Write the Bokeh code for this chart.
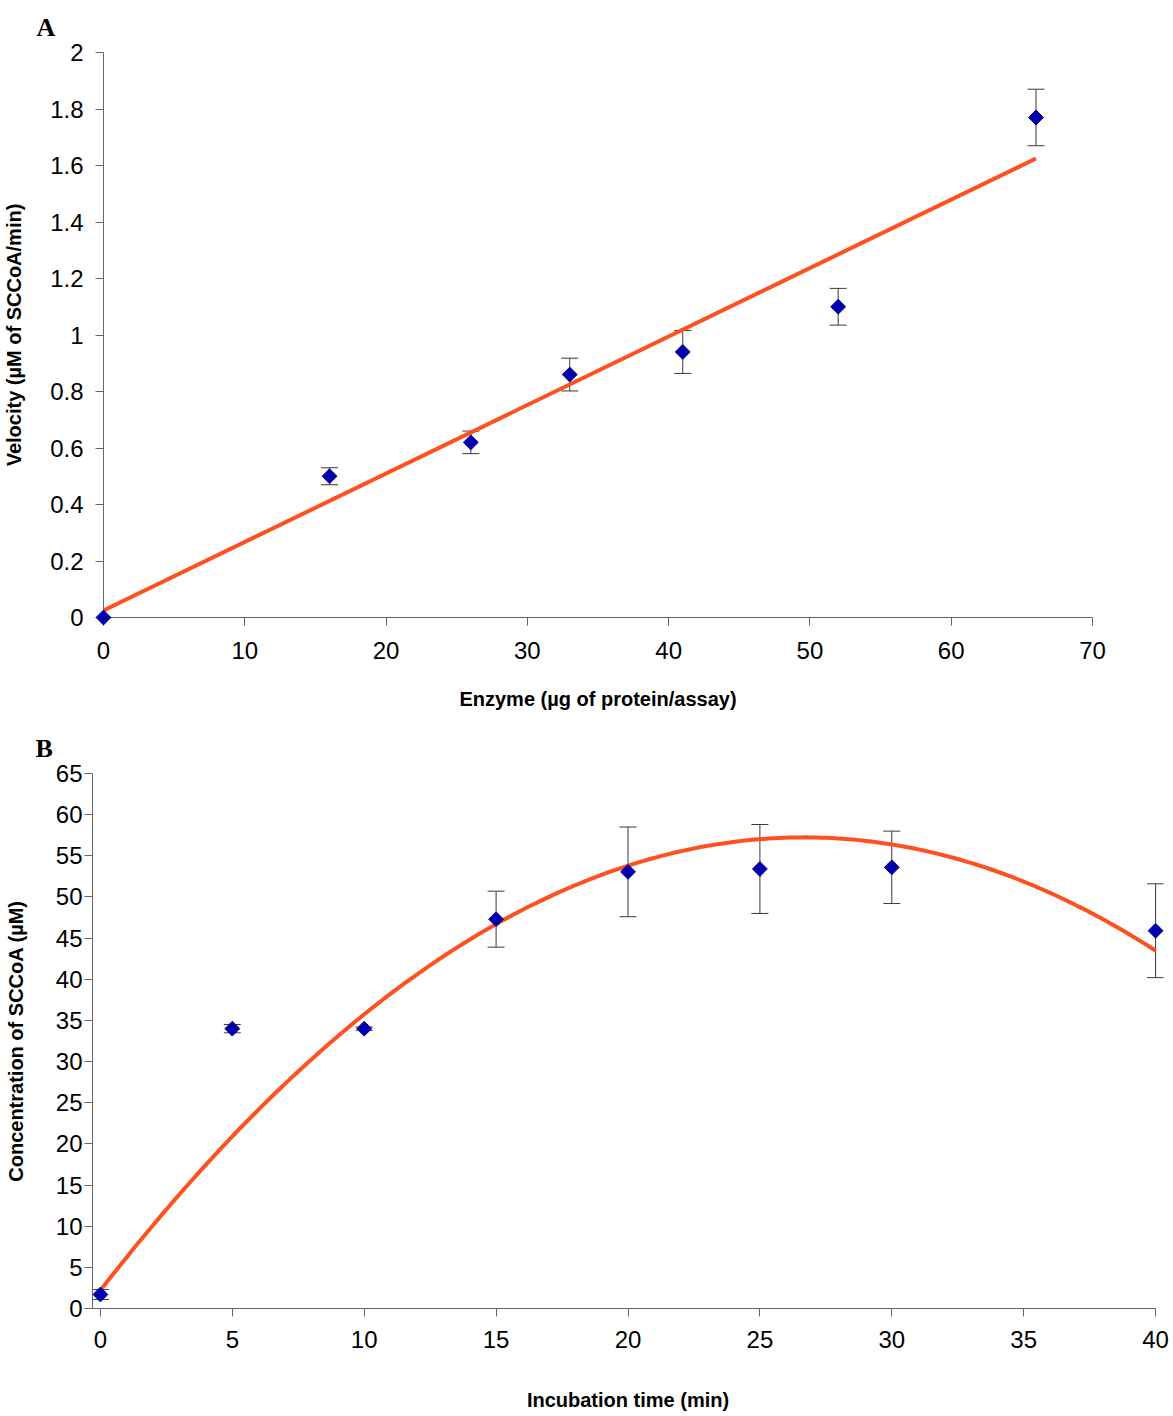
import numpy as np
from bokeh.plotting import figure
from bokeh.models import ColumnDataSource, Whisker, TeeHead, Range1d, FixedTicker
from bokeh.embed import file_html
from bokeh.resources import INLINE

# ---- Panel A data ----
enzyme_ug = [0, 16, 26, 33, 41, 52, 66]
velocity = [0.0, 0.50, 0.62, 0.86, 0.94, 1.10, 1.77]
velocity_err = [0.0, 0.03, 0.04, 0.058, 0.076, 0.065, 0.10]
a_fit_coef = [0.02424, 0.025]          # linear trendline (slope, intercept)
a_xticks = [0, 10, 20, 30, 40, 50, 60, 70]
a_yticks = [0, 0.2, 0.4, 0.6, 0.8, 1.0, 1.2, 1.4, 1.6, 1.8, 2.0]

# ---- Panel B data ----
time_min = [0, 5, 10, 15, 20, 25, 30, 40]
scoa_conc = [1.7, 34.0, 34.0, 47.3, 53.05, 53.4, 53.6, 45.9]
scoa_err = [0.6, 0.5, 0.2, 3.4, 5.45, 5.4, 4.4, 5.7]
b_fit_coef = [-0.0774, 4.128, 2.2]     # 2nd-order trendline
b_xticks = [0, 5, 10, 15, 20, 25, 30, 35, 40]
b_yticks = list(range(0, 70, 5))

MARK = "#0000A8"
LINE = "#FF5020"
AXC = "#666666"
ERRC = "#3a3a3a"
TICKF = "Liberation Sans"


def style(p, xt, yt, panel_letter, offset):
    p.xaxis.ticker = FixedTicker(ticks=xt)
    p.yaxis.ticker = FixedTicker(ticks=yt)
    for ax in (p.xaxis[0], p.yaxis[0]):
        ax.axis_line_color = AXC
        ax.major_tick_line_color = AXC
        ax.minor_tick_line_color = None
        ax.major_tick_in = 0
        ax.major_tick_out = 8
        ax.major_label_text_font = TICKF
        ax.major_label_text_font_size = "24px"
        ax.major_label_text_color = "black"
        ax.axis_label_text_font = TICKF
        ax.axis_label_text_font_style = "bold"
        ax.axis_label_text_font_size = "20px"
        ax.axis_label_text_color = "black"
    p.xgrid.visible = False
    p.ygrid.visible = False
    p.outline_line_color = None
    p.title.text = panel_letter
    p.title.align = "left"
    p.title.offset = offset
    p.title.text_font = "Liberation Serif"
    p.title.text_font_style = "bold"
    p.title.text_font_size = "26px"
    p.title.text_color = "black"
    p.title.standoff = 21


def fmt(v):
    return "0" if v == 0 else ("%g" % v)


def errbars(p, src):
    p.add_layout(Whisker(source=src, base="x", lower="lo", upper="hi",
                         line_color=ERRC, line_width=1,
                         upper_head=TeeHead(size=17, line_color=ERRC, line_width=1),
                         lower_head=TeeHead(size=17, line_color=ERRC, line_width=1)))

# ---------- Figure A ----------
pa = figure(width=1173, height=720, output_backend="svg", toolbar_location=None,
            x_range=Range1d(0, 70), y_range=Range1d(0, 2.0),
            min_border_left=102, min_border_right=81, min_border_top=52, min_border_bottom=103)
style(pa, a_xticks, a_yticks, "A", -67)
pa.yaxis.major_label_overrides = {v: fmt(v) for v in a_yticks}
pa.xaxis.axis_label = "Enzyme (µg of protein/assay)"
pa.yaxis.axis_label = "Velocity (µM of SCCoA/min)"
pa.xaxis.major_label_standoff = 16
pa.yaxis.major_label_standoff = 12
pa.xaxis.axis_label_standoff = 26
pa.yaxis.axis_label_standoff = 22

srcA = ColumnDataSource(dict(x=enzyme_ug, y=velocity,
                             lo=[v - e for v, e in zip(velocity, velocity_err)],
                             hi=[v + e for v, e in zip(velocity, velocity_err)]))
fxA = np.array([min(enzyme_ug), max(enzyme_ug)])
pa.line(fxA, np.polyval(a_fit_coef, fxA), line_color=LINE, line_width=4)
errbars(pa, srcA)
ra = pa.scatter("x", "y", source=srcA, marker="square", size=10.5, angle=np.pi / 4,
                fill_color=MARK, line_color=MARK)
ra.level = "overlay"

# ---------- Figure B ----------
pb = figure(width=1173, height=694, output_backend="svg", toolbar_location=None,
            x_range=Range1d(-0.3, 40.3), y_range=Range1d(0, 65),
            min_border_left=92, min_border_right=10, min_border_top=53, min_border_bottom=106)
style(pb, b_xticks, b_yticks, "B", -57)
pb.xaxis.bounds = (-0.3, 40)
pb.xaxis.axis_label = "Incubation time (min)"
pb.yaxis.axis_label = "Concentration of SCCoA (µM)"
pb.xaxis.major_label_standoff = 14
pb.yaxis.major_label_standoff = 2
pb.xaxis.axis_label_standoff = 38
pb.yaxis.axis_label_standoff = 26

srcB = ColumnDataSource(dict(x=time_min, y=scoa_conc,
                             lo=[v - e for v, e in zip(scoa_conc, scoa_err)],
                             hi=[v + e for v, e in zip(scoa_conc, scoa_err)]))
fxB = np.linspace(min(time_min), max(time_min), 200)
pb.line(fxB, np.polyval(b_fit_coef, fxB), line_color=LINE, line_width=4)
errbars(pb, srcB)
rb = pb.scatter("x", "y", source=srcB, marker="square", size=10.5, angle=np.pi / 4,
                fill_color=MARK, line_color=MARK)
rb.level = "overlay"

open("out.html", "w").write(file_html([pa, pb], INLINE))
